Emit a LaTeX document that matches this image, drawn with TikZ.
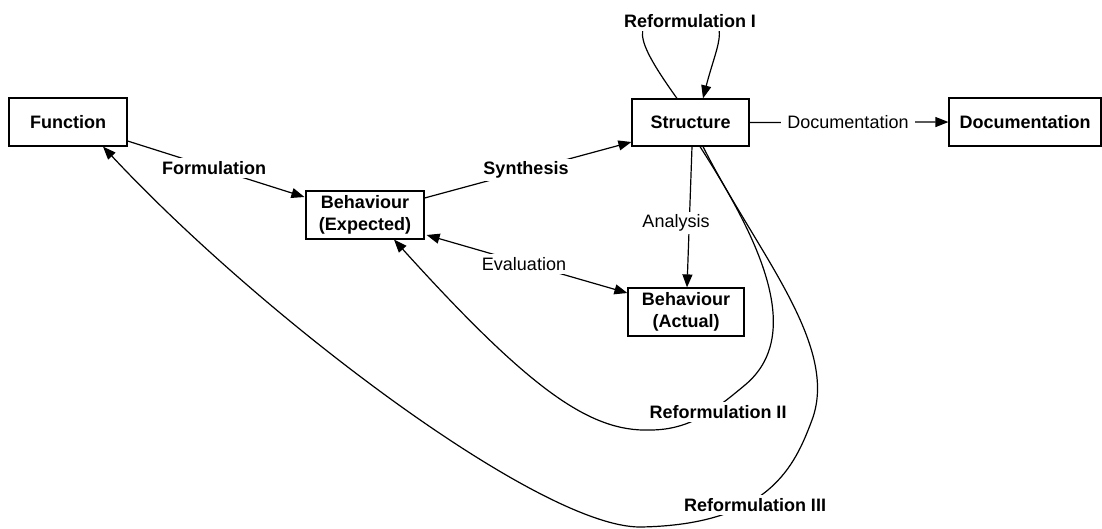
\documentclass[tikz,border=0pt]{standalone}
\usepackage{fontspec}
\setmainfont{Liberation Sans}
\usetikzlibrary{arrows.meta,calc}
\begin{document}
\begin{tikzpicture}[x=1pt,y=-1pt, line width=1.2pt,
  box/.style={draw, line width=1.2pt, minimum height=48pt, font=\bfseries\fontsize{18}{22}\selectfont, align=center, inner sep=0pt},
  lab/.style={fill=white, inner sep=3pt, font=\fontsize{18}{22}\selectfont},
  blab/.style={fill=white, inner sep=3pt, font=\bfseries\fontsize{18}{22}\selectfont},
  arr/.style={-{Triangle[length=13pt,width=10pt]}},
  darr/.style={{Triangle[length=13pt,width=10pt]}-{Triangle[length=13pt,width=10pt]}},
]
\useasboundingbox (0,0) rectangle (1102,528);

% boxes
\node[box, minimum width=118pt] (f)  at (68,122)    {Function};
\node[box, minimum width=118pt] (be) at (365,215)   {Behaviour\\(Expected)};
\node[box, minimum width=117pt, minimum height=47pt] (s) at (690.5,122.5) {Structure};
\node[box, minimum width=152pt] (d)  at (1025,122)  {Documentation};
\node[box, minimum width=116pt] (ba) at (686,312)   {Behaviour\\(Actual)};

% straight connectors
\draw[arr] ($(f.east)+(0,19)$) -- ($(be.west)+(-1,-18)$);
\draw[arr] ($(be.east)+(0,-17)$) -- ($(s.west)+(0,19.5)$);
\draw[darr] ($(be.east)+(2,20)$) -- ($(ba.west)+(0,-19)$);
\draw[arr] ($(s.south)+(1.5,0)$) -- ($(ba.north)+(1,0)$);
\draw[arr] (s.east) -- (d.west);

% Reformulation I (self loop)
\draw[arr] ($(s.north)+(-13.5,0)$) .. controls (628,30) and (630,15) .. (690,16)
  .. controls (735,17) and (718,40) .. ($(s.north)+(12.5,0)$);

% Reformulation II
\draw[arr] ($(s.south)+(9.5,0)$) .. controls (760,240) and (805,335) .. (745,385)
  .. controls (715,410) and (690,430) .. (650,430)
  .. controls (590,432) and (530,390) .. ($(be.south)+(29,0)$);

% Reformulation III
\draw[arr] ($(s.south)+(12.5,0)$) .. controls (755,250) and (840,345) .. (812,420)
  .. controls (795,465) and (770,525) .. (640,527)
  .. controls (540,527) and (263,318) .. ($(f.south)+(35,0)$);

% labels
\node[blab] (lform) at (214,168) {Formulation};
\node[blab] (lsyn)  at (526,170) {Synthesis};
\node[lab]  (leval) at (524,264) {Evaluation};
\node[lab]  (lana)  at (676,223) {Analysis};
\node[lab, inner sep=6pt] (ldoc) at (848,122) {Documentation};
\node[blab] (lr1) at (690,21)  {Reformulation I};
\node[blab] (lr2) at (718,412) {Reformulation II};
\node[blab] (lr3) at (755,505) {Reformulation III};
\end{tikzpicture}
\end{document}
